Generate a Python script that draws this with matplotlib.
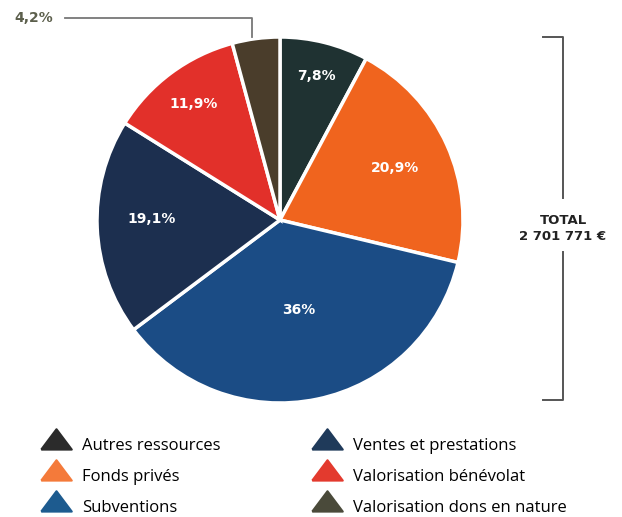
import numpy as np
import matplotlib
matplotlib.use("Agg")
import matplotlib.pyplot as plt
from matplotlib.lines import Line2D

# slices, clockwise from 12 o'clock
labels = ["Autres ressources", "Fonds privés", "Subventions",
          "Ventes et prestations", "Valorisation bénévolat",
          "Valorisation dons en nature"]
shares = [7.8, 20.9, 36.0, 19.1, 11.9, 4.2]
pct_text = ["7,8%", "20,9%", "36%", "19,1%", "11,9%", "4,2%"]
pie_colors = ["#1f3232", "#f0641e", "#1b4c85", "#1c2f4f", "#e2302a", "#4a3d2b"]
legend_colors = ["#2b2b2b", "#f47a3a", "#1d5b8f", "#1f3a5a", "#e33a2e", "#4a4a3a"]
total_text = "TOTAL\n2 701 771 €"

W, H = 622, 517
fig = plt.figure(figsize=(W / 100, H / 100), dpi=100)
ax = fig.add_axes([0, 0, 1, 1])

cx, cy, R = 280, H - 220, 183
wedges, _ = ax.pie(shares, colors=pie_colors, startangle=90, counterclock=False,
                   center=(cx, cy), radius=R,
                   wedgeprops=dict(edgecolor="white", linewidth=2.5))

# percent labels inside slices (last one goes outside with a leader line)
dist = [0.81, 0.69, 0.50, 0.70, 0.79]
turn = [0, 0, 0, -3, 0]
for w, t, d, dt in zip(wedges[:5], pct_text[:5], dist, turn):
    a = np.deg2rad((w.theta1 + w.theta2) / 2 + dt)
    ax.text(cx + d * R * np.cos(a), cy + d * R * np.sin(a), t,
            color="white", fontsize=10, fontweight="heavy",
            ha="center", va="center", family="DejaVu Sans")

ax.text(14, H - 18, pct_text[5], color="#5c5f4c", fontsize=10,
        fontweight="heavy", ha="left", va="center")
ax.plot([65, 252, 252], [H - 18, H - 18, H - 37], color="#777777", lw=1.3)

# bracket with total
bx = 563
ax.plot([543, bx, bx], [H - 37, H - 37, H - 198], color="#555555", lw=1.4)
ax.plot([543, bx, bx], [H - 400, H - 400, H - 252], color="#555555", lw=1.4)
ax.text(bx, H - 229, total_text, ha="center", va="center", fontsize=9.5,
        fontweight="heavy", color="#222222", linespacing=1.3)

# wide triangle markers, sitting a little above the text centre
tri = [(-0.75, -0.25), (0.75, -0.25), (0, 0.75), (-0.75, -0.25)]
handles = [Line2D([], [], marker=tri, linestyle="none", markersize=22,
                  markerfacecolor=c, markeredgecolor=c, markeredgewidth=1.5)
           for c in legend_colors]
ax.legend(handles, labels, ncol=2, loc="upper left",
          bbox_to_anchor=(36 / W, 1 - 431 / H), frameon=False,
          prop={"family": "Open Sans", "size": 12},
          handletextpad=0.76, labelspacing=0.9, columnspacing=5.57,
          handlelength=1.6, borderaxespad=0)

ax.set_xlim(0, W)
ax.set_ylim(0, H)
ax.set_aspect("auto")
ax.axis("off")

fig.savefig("out.png", dpi=100)
